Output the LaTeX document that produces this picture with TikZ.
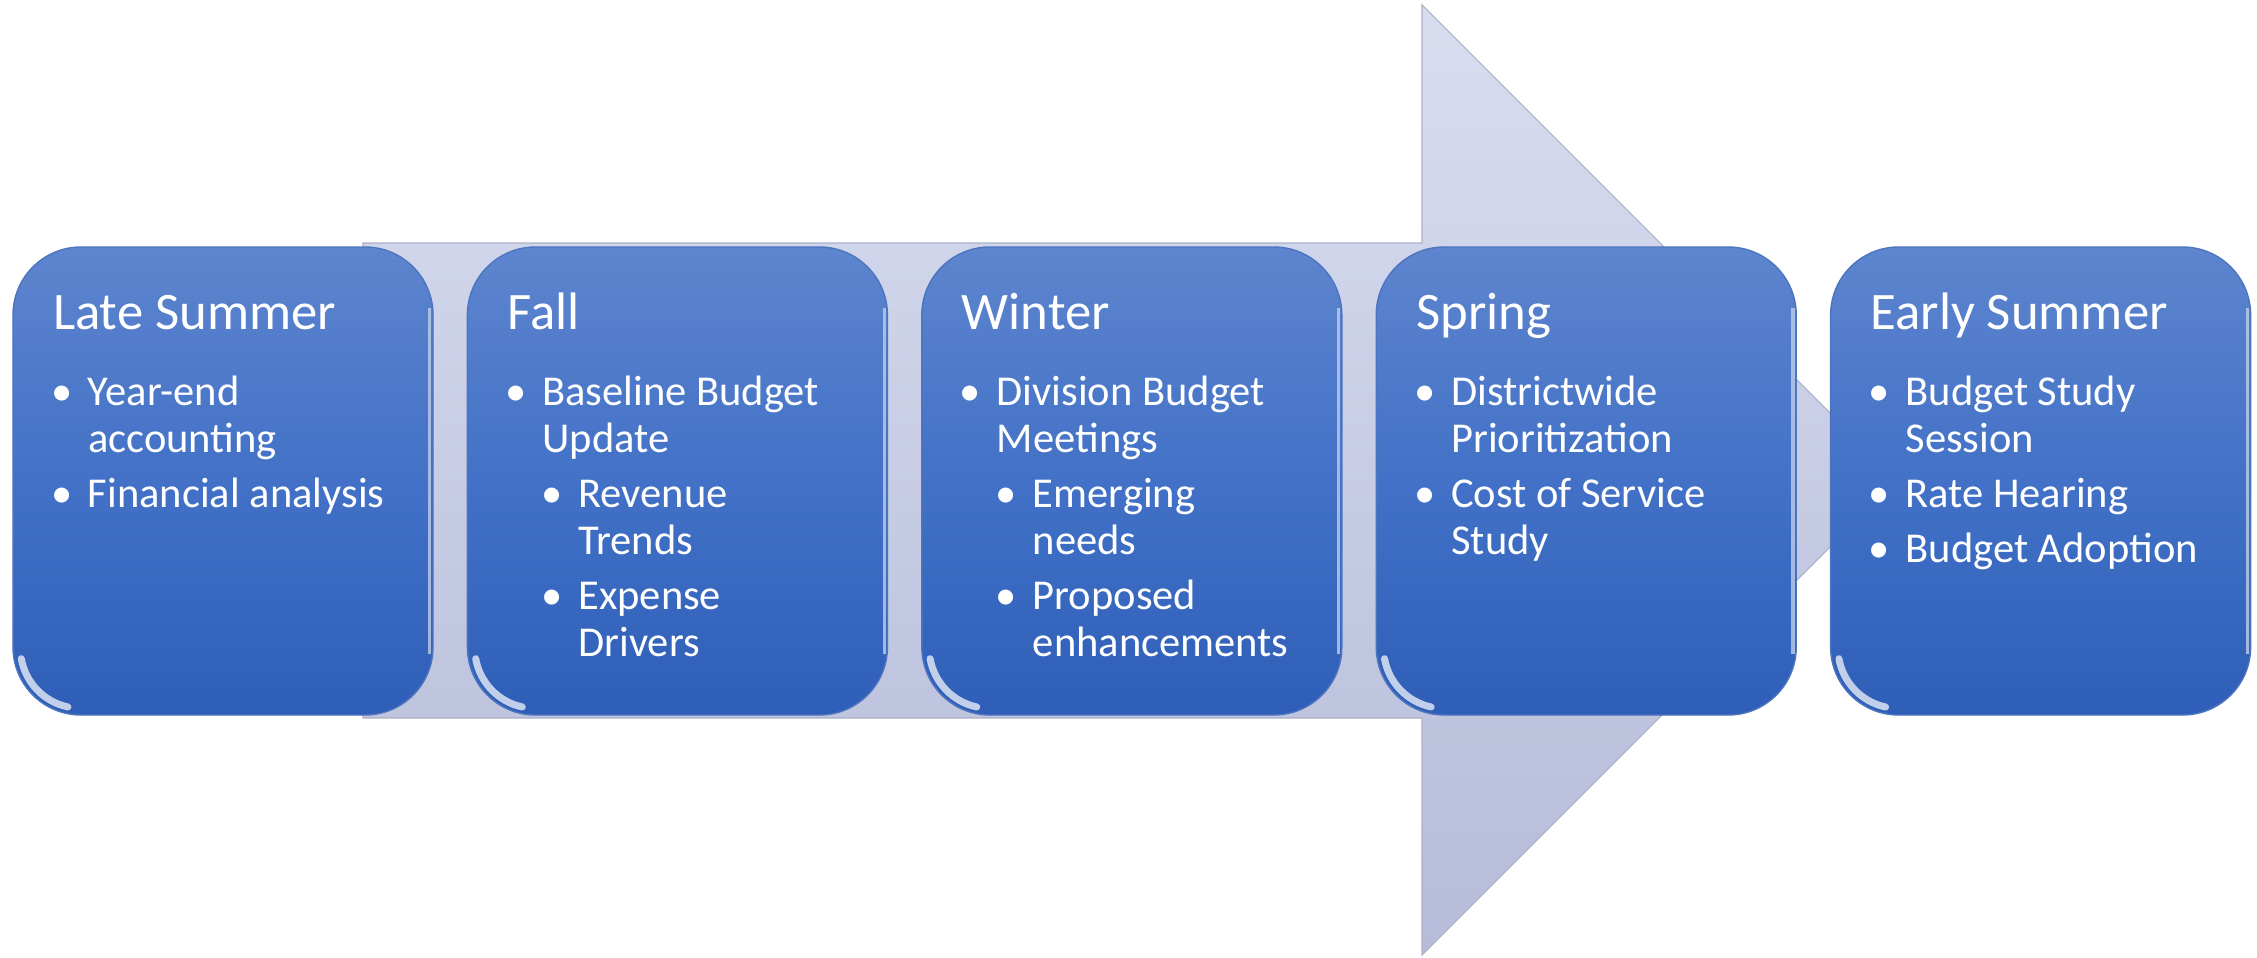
\documentclass[tikz,border=0pt]{standalone}
\usepackage{fontspec}
\setmainfont{Carlito}
\usetikzlibrary{positioning}

\definecolor{boxtop}{HTML}{5E85CE}
\definecolor{boxmid}{HTML}{4271C7}
\definecolor{boxbot}{HTML}{2F5EB8}
\definecolor{arrtop}{HTML}{D8DDF0}
\definecolor{arrbot}{HTML}{B6BCD9}
\definecolor{rim}{HTML}{4D74BE}

% bullets for the lists inside the boxes
\newcommand{\bul}{\rule{0pt}{0.36cm}\makebox[0.37cm][l]{\textbullet}}
\newcommand{\sbul}{\hspace*{0.36cm}\makebox[0.37cm][l]{\textbullet}}
\newcommand{\cont}{\hspace*{0.37cm}}
\newcommand{\scont}{\hspace*{0.73cm}}

\begin{document}
\begin{tikzpicture}[x=1cm, y=1cm,
    season/.style={draw=rim, line width=0.4pt, rounded corners=0.68cm, minimum width=4.20cm,
      minimum height=4.68cm, inner sep=0pt, top color=boxtop, bottom color=boxbot, middle color=boxmid},
    title/.style={anchor=base west, inner sep=0pt, text=white, font=\fontsize{15pt}{18pt}\selectfont},
    body/.style={anchor=north west, inner sep=0pt, text=white, align=left, font=\fontsize{12.1pt}{13.4pt}\selectfont},
    gloss/.style={white, line width=2pt, opacity=0.7, line cap=round},
    edge/.style={white!60!boxtop, line width=0.9pt, opacity=0.8}]
  \useasboundingbox (0,0) rectangle (22.57,9.57);
  % big arrow behind the boxes
  \shade[top color=arrtop, bottom color=arrbot, draw=arrbot!80!gray, line width=0.3pt]
    (3.63,7.14) -- (14.22,7.14) -- (14.22,9.52) -- (18.97,4.77) -- (14.22,0.02)
    -- (14.22,2.39) -- (3.63,2.39) -- cycle;
  % season boxes
  \node[season] (late) at (2.23,4.76) {};
  \node[season, right=0.33cm of late] (fall) {};
  \node[season, right=0.33cm of fall] (winter) {};
  \node[season, right=0.33cm of winter] (spring) {};
  \node[season, right=0.33cm of spring] (early) {};
  \foreach \b in {late,fall,winter,spring,early} {
    \draw[gloss] ([shift={(0.09,0.57)}]\b.south west) arc (190:258:0.60);
    \draw[edge] ([shift={(-0.04,0.62)}]\b.south east) -- ([shift={(-0.04,-0.62)}]\b.north east);
  }
  % titles
  \node[title] (lateT) at ([shift={(0.40,-0.83)}]late.north west) {Late Summer};
  \node[title] (fallT) at ([shift={(0.40,-0.83)}]fall.north west) {Fall};
  \node[title] (winterT) at ([shift={(0.40,-0.83)}]winter.north west) {Winter};
  \node[title] (springT) at ([shift={(0.40,-0.83)}]spring.north west) {Spring};
  \node[title] (earlyT) at ([shift={(0.40,-0.83)}]early.north west) {Early Summer};
  % lists
  \node[body] (lateB) at ([shift={(0.38,-1.22)}]late.north west)
    {\bul Year-end\\ \cont accounting\\[2.3pt] \bul Financial analysis};
  \node[body] (fallB) at ([shift={(0.38,-1.22)}]fall.north west)
    {\bul Baseline Budget\\ \cont Update\\[2.3pt] \sbul Revenue\\ \scont Trends\\[2.3pt]
     \sbul Expense\\ \scont Drivers};
  \node[body] (winterB) at ([shift={(0.38,-1.22)}]winter.north west)
    {\bul Division Budget\\ \cont Meetings\\[2.3pt] \sbul Emerging\\ \scont needs\\[2.3pt]
     \sbul Proposed\\ \scont enhancements};
  \node[body] (springB) at ([shift={(0.38,-1.22)}]spring.north west)
    {\bul Districtwide\\ \cont Prioritization\\[2.3pt] \bul Cost of Service\\ \cont Study};
  \node[body] (earlyB) at ([shift={(0.38,-1.22)}]early.north west)
    {\bul Budget Study\\ \cont Session\\[2.3pt] \bul Rate Hearing\\[2.3pt] \bul Budget Adoption};
\end{tikzpicture}
\end{document}
